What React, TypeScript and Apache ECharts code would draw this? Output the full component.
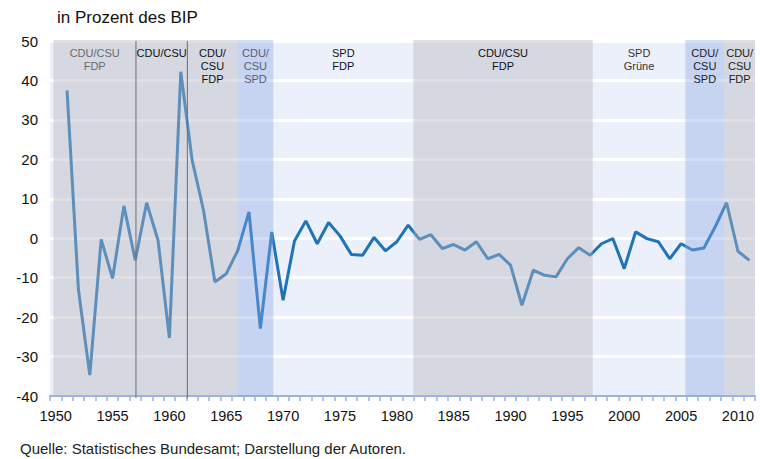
import React, { useEffect, useRef } from "react";
import * as echarts from "echarts";

// Categories (years) 1950..2011
const years: string[] = [];
for (let y = 1950; y <= 2011; y++) years.push(String(y));

// Values in per cent of GDP, 1950..2011 (1950 has no value)
const values: (number | null)[] = [
  null, 37.5, -13.0, -34.7, -0.3, -10.2, 8.2, -5.6, 9.0, -0.5,
  -25.3, 42.2, 19.8, 7.1, -11.1, -9.0, -3.2, 6.7, -22.9, 1.6,
  -15.7, -0.7, 4.4, -1.4, 4.0, 0.6, -4.1, -4.3, 0.2, -3.2,
  -0.9, 3.3, -0.3, 0.9, -2.6, -1.6, -3.0, -0.9, -5.2, -4.1,
  -6.8, -17.0, -8.1, -9.4, -9.8, -5.2, -2.4, -4.3, -1.4, -0.1,
  -7.7, 1.6, -0.1, -0.9, -5.2, -1.4, -3.0, -2.5, 2.9, 9.0,
  -3.3, -5.6,
];

// Government periods (position on a continuous year scale)
const bandStarts = [1950.3, 1957.56, 1962.08, 1966.5, 1969.64, 1981.95, 1997.73, 2005.87, 2009.3];
const bandEnds = [1957.56, 1962.08, 1966.5, 1969.64, 1981.95, 1997.73, 2005.87, 2009.3, 2012];
const bandKinds = ["gray", "gray", "gray", "blue", "none", "gray", "none", "blue", "gray"];
const bandLabels = [
  "CDU/CSU\nFDP",
  "CDU/CSU",
  "CDU/\nCSU\nFDP",
  "CDU/\nCSU\nSPD",
  "SPD\nFDP",
  "CDU/CSU\nFDP",
  "SPD\nGrüne",
  "CDU/\nCSU\nSPD",
  "CDU/\nCSU\nFDP",
];
const bandLabelColors = ["#6a6a6a", "#111", "#111", "#555c76", "#111", "#111", "#333", "#222", "#222"];
const dividers = [1957.56, 1962.08];

const yTicks = { min: -40, max: 50, interval: 10 };

const FONT = "'Liberation Sans', Arial, Helvetica, sans-serif";

export default function App() {
  const ref = useRef<HTMLDivElement>(null);
  useEffect(() => {
    document.body.style.margin = "0";
    if (!ref.current) return;
    const chart = echarts.init(ref.current, null, { renderer: "svg" });

    const bandData = bandStarts.map((s, i) => [s, bandEnds[i], i]);
    const fills: Record<string, string | null> = {
      gray: "rgba(180,182,190,0.42)",
      blue: "rgba(140,165,225,0.38)",
      none: null,
    };

    const option: any = {
      animation: false,
      backgroundColor: "#fff",
      textStyle: { fontFamily: FONT },
      grid: {
        left: 50,
        right: 5,
        top: 41,
        bottom: 63,
        containLabel: false,
        show: true,
        backgroundColor: "#ecf0fa",
        borderWidth: 0,
      },
      xAxis: [
        {
          type: "category",
          data: years,
          boundaryGap: true,
          axisLine: { show: true, onZero: false, lineStyle: { color: "#9bb1e2", width: 2 } },
          axisTick: { show: true, interval: 0, length: 5, lineStyle: { color: "#9bb1e2", width: 1.5 } },
          axisLabel: { interval: 4, color: "#111", fontSize: 14.5, margin: 12, fontFamily: FONT },
          splitLine: { show: false },
        },
        {
          type: "value",
          min: 1950,
          max: 2012,
          show: false,
          axisLine: { onZero: false },
          splitLine: { show: false },
        },
      ],
      yAxis: {
        type: "value",
        min: yTicks.min,
        max: yTicks.max,
        interval: yTicks.interval,
        axisLine: { show: false },
        axisTick: { show: false },
        axisLabel: { color: "#111", fontSize: 15, margin: 12, fontFamily: FONT },
        splitLine: { show: true, lineStyle: { color: "#ffffff", width: 3 } },
      },
      series: [
        {
          type: "line",
          xAxisIndex: 0,
          data: values,
          symbol: "none",
          showSymbol: false,
          connectNulls: false,
          lineStyle: { color: "#1f74b8", width: 3 },
          z: 2,
        },
        {
          type: "custom",
          xAxisIndex: 1,
          yAxisIndex: 0,
          z: 10,
          clip: false,
          data: bandData,
          encode: { x: [0, 1], y: 2 },
          renderItem: (params: any, api: any) => {
            const s = api.value(0);
            const e = api.value(1);
            const idx = api.value(2);
            const p0 = api.coord([s, yTicks.max]);
            const p1 = api.coord([e, yTicks.min]);
            const children: any[] = [];
            const fill = fills[bandKinds[idx]];
            if (fill) {
              children.push({
                type: "rect",
                shape: { x: p0[0], y: p0[1] - 1, width: p1[0] - p0[0], height: p1[1] - p0[1] + 1 },
                style: { fill },
              });
            }
            children.push({
              type: "text",
              style: {
                text: bandLabels[idx],
                x: (p0[0] + p1[0]) / 2,
                y: p0[1] + 5,
                align: "center",
                verticalAlign: "top",
                fill: bandLabelColors[idx],
                font: `11px ${FONT}`,
                lineHeight: 13,
              },
            });
            return { type: "group", children };
          },
        },
        {
          type: "custom",
          xAxisIndex: 1,
          yAxisIndex: 0,
          z: 11,
          clip: false,
          data: dividers.map((d) => [d, 0]),
          encode: { x: 0, y: 1 },
          renderItem: (params: any, api: any) => {
            const v = api.value(0);
            const a = api.coord([v, yTicks.max]);
            const b = api.coord([v, yTicks.min]);
            return {
              type: "line",
              shape: { x1: a[0], y1: a[1], x2: b[0], y2: b[1] + 2 },
              style: { stroke: "#6e6e6e", lineWidth: 1 },
            };
          },
        },
      ],
      graphic: [
        {
          type: "text",
          left: 57,
          top: 9,
          style: { text: "in Prozent des BIP", fill: "#111", font: `17px ${FONT}` },
        },
        {
          type: "text",
          left: 20,
          top: 441,
          style: {
            text: "Quelle: Statistisches Bundesamt; Darstellung der Autoren.",
            fill: "#222",
            font: `15px ${FONT}`,
          },
        },
      ],
    };

    chart.setOption(option);
    return () => chart.dispose();
  }, []);

  return <div ref={ref} style={{ width: 760, height: 459 }} />;
}
